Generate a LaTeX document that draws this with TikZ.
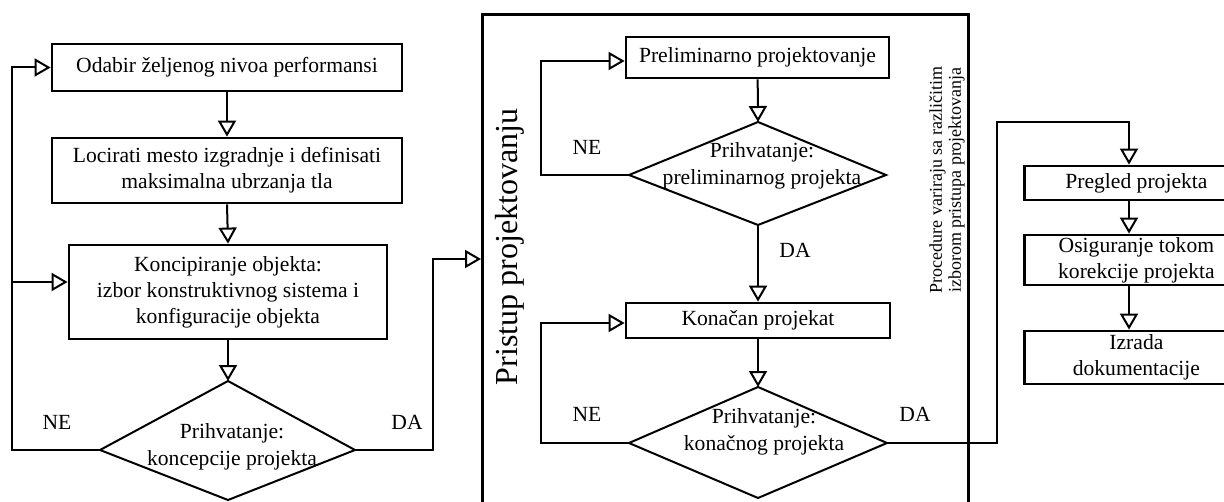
\documentclass[tikz,border=0pt]{standalone}
\usepackage{fontspec}
\setmainfont{Liberation Serif}
\usetikzlibrary{arrows.meta,calc}
\begin{document}
\begin{tikzpicture}[x=0.5pt,y=-0.5pt,
  box/.style={draw, line width=1.4pt, align=center, inner sep=0pt, font=\fontsize{10.8}{13}\selectfont},
  lbl/.style={align=center, inner sep=0pt, font=\fontsize{10.8}{13.5}\selectfont},
  conn/.style={line width=1pt, -{Triangle[open,length=8pt,width=9pt]}},
  plain/.style={line width=1pt},
  dia/.style={draw, line width=1pt, line join=miter}
]
\useasboundingbox (0,0) rectangle (1224,502);
\clip (0,0) rectangle (1224,502);

% ---------- left column ----------
\node[box, minimum width=175pt, minimum height=23.5pt] (b1) at (227,67.5) {Odabir željenog nivoa performansi};
\node[box, minimum width=175pt, minimum height=32.5pt] (b2) at (227,170.5) {Locirati mesto izgradnje i definisati\\maksimalna ubrzanja tla};
\node[box, minimum width=159pt, minimum height=47pt] (b3) at (228,292) {Koncipiranje objekta:\\izbor konstruktivnog sistema i\\konfiguracije objekta};

\coordinate (d1t) at (228,381);
\coordinate (d1l) at (100,450);
\coordinate (d1r) at (355,450);
\coordinate (d1b) at (228,500);
\draw[dia] (d1t) -- (d1r) -- (d1b) -- (d1l) -- cycle;
\node[lbl] (d1x) at (232,447) {Prihvatanje:\\koncepcije projekta};
\node[lbl] (ne1) at (57,422) {NE};
\node[lbl] (da1) at (407,422) {DA};

\draw[conn] (b1) -- (b2);
\draw[conn] (b2.south) -- (b3.north);
\draw[conn] (b3.south) -- (d1t);

\coordinate (lb) at (12,450);
\coordinate (lbr) at (12,282);
\draw[conn] (d1l) -- (lb) |- (b1.west);
\draw[conn] (lbr) -- (lbr -| b3.west);

% ---------- middle frame ----------
\node[draw, line width=1.3pt, minimum width=243pt, minimum height=264pt, inner sep=0pt, anchor=north west] (frame) at (481,13) {};
\node[rotate=90, inner sep=0pt, font=\fontsize{16}{19}\selectfont] (pristup) at (510,247) {Pristup projektovanju};
\node[rotate=90, align=center, inner sep=0pt, font=\fontsize{9}{9.5}\selectfont] (proc) at (947,180) {Procedure variraju sa različitim\\izborom pristupa projektovanja};

\coordinate (da1c) at (433,450);
\coordinate (da1t) at (433,259);
\draw[conn] (d1r) -- (da1c) -- (da1t) -- (da1t -| frame.west);

\node[box, minimum width=131.5pt, minimum height=20.5pt] (pre) at (757.5,57.5) {Preliminarno projektovanje};

\coordinate (m1t) at (758,122);
\coordinate (m1l) at (629,175);
\coordinate (m1r) at (886,175);
\coordinate (m1b) at (758,225);
\draw[dia] (m1t) -- (m1r) -- (m1b) -- (m1l) -- cycle;
\node[lbl] (m1x) at (762,166) {Prihvatanje:\\preliminarnog projekta};
\node[lbl] (ne2) at (587,147) {NE};
\node[lbl] (da2) at (795,250) {DA};

\node[box, minimum width=132pt, minimum height=17.5pt] (kon) at (758,320.5) {Konačan projekat};

\coordinate (m2t) at (758,387);
\coordinate (m2l) at (629,443);
\coordinate (m2r) at (887,443);
\coordinate (m2b) at (758,498);
\draw[dia] (m2t) -- (m2r) -- (m2b) -- (m2l) -- cycle;
\node[lbl] (m2x) at (764,432) {Prihvatanje:\\konačnog projekta};
\node[lbl] (ne3) at (587,414) {NE};
\node[lbl] (da3) at (915,414) {DA};

\draw[conn] (pre) -- (m1t);
\draw[conn] (m1b) -- (kon);
\draw[conn] (kon) -- (m2t);

\coordinate (p0) at (541,175);
\coordinate (p1) at (541,61);
\draw[conn] (m1l) -- (p0) -- (p1) -- (p1 -| pre.west);
\coordinate (k0) at (541,443);
\coordinate (k1) at (541,323);
\draw[conn] (m2l) -- (k0) -- (k1) -- (k1 -| kon.west);

% ---------- right column ----------
\node[box, minimum width=112pt, minimum height=17pt, anchor=west] (preg) at (1023,183) {Pregled projekta};
\node[box, minimum width=112pt, minimum height=25pt, anchor=west] (osig) at (1023,260) {Osiguranje tokom\\korekcije projekta};
\node[box, minimum width=112pt, minimum height=26.5pt, anchor=west] (izr) at (1023,357.5) {Izrada\\dokumentacije};

\coordinate (r1) at (997,443);
\coordinate (r2) at (997,122);
\coordinate (ax) at (1129,122);
\draw[conn] (m2r) -- (r1) -- (r2) -- (ax) -- (ax |- preg.north);
\draw[conn] (ax |- preg.south) -- (ax |- osig.north);
\draw[conn] (ax |- osig.south) -- (ax |- izr.north);
\end{tikzpicture}
\end{document}
